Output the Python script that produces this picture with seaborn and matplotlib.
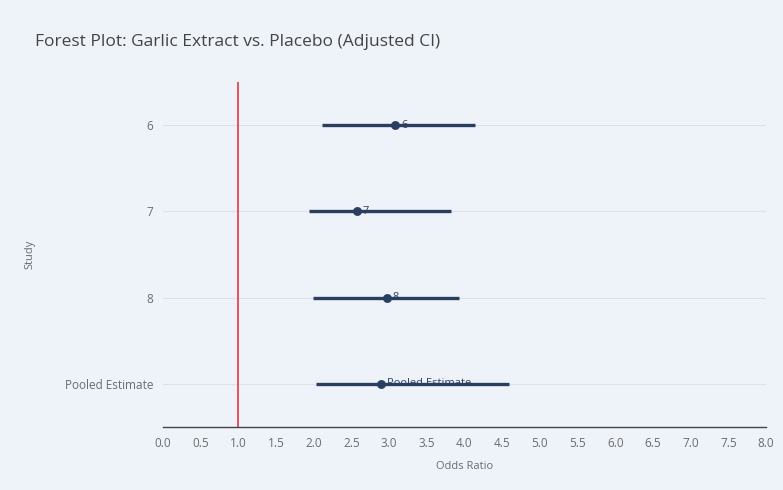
import numpy as np
import pandas as pd
import seaborn as sns
import matplotlib.pyplot as plt

# values
studies = ["6", "7", "8", "Pooled Estimate"]
odds_ratio = [3.08, 2.57, 2.97, 2.89]
ci_low = [2.11, 1.94, 1.99, 2.03]
ci_high = [4.14, 3.82, 3.93, 4.59]
x_ticks = [i * 0.5 for i in range(17)]

df = pd.DataFrame({"Study": studies, "OR": odds_ratio, "lo": ci_low, "hi": ci_high})

bg = "#EEF2F9"
ink = "#2A3F5F"

sns.set_theme(style="white")
plt.rcParams["font.family"] = ["Open Sans", "DejaVu Sans"]

fig = plt.figure(figsize=(7.83, 4.90), dpi=100, facecolor=bg)
ax = fig.add_axes([163 / 783, 1 - 427 / 490, (766 - 163) / 783, (427 - 82) / 490])
ax.set_facecolor(bg)

ypos = np.arange(len(studies))
ax.errorbar(df["OR"], ypos,
            xerr=[df["OR"] - df["lo"], df["hi"] - df["OR"]],
            fmt="none", ecolor=ink, elinewidth=2.4, capsize=0, zorder=3)
sns.scatterplot(x=df["OR"], y=ypos, ax=ax, color=ink, s=35, edgecolor=ink, zorder=4, legend=False)
for y, (s, v) in enumerate(zip(studies, odds_ratio)):
    ax.text(v + 0.08, y, s, fontsize=8, color=ink, va="center", ha="left", zorder=5)

ax.axvline(1.0, color="#E8434F", lw=1.3, zorder=2)

ax.set_xlim(0, 8)
ax.set_ylim(len(studies) - 0.5, -0.5)
ax.set_xticks(x_ticks)
ax.set_xticklabels([f"{t:.1f}" for t in x_ticks])
ax.set_yticks(ypos)
ax.set_yticklabels(studies)
ax.tick_params(axis="both", labelsize=8.5, labelcolor="#6b6b6b", length=0, pad=7)

for y in ypos:
    ax.axhline(y, color="#DCE1EA", lw=0.8, zorder=1)

for side in ["top", "right", "left"]:
    ax.spines[side].set_visible(False)
ax.spines["bottom"].set_color("#444444")
ax.spines["bottom"].set_linewidth(1)

ax.set_xlabel("Odds Ratio", fontsize=8, color="#6b6b6b", labelpad=8)
ax.set_ylabel("Study", fontsize=8, color="#6b6b6b")
ax.yaxis.set_label_coords((35 - 163) / 603, 0.5)

fig.text(35 / 783, 1 - 42 / 490, "Forest Plot: Garlic Extract vs. Placebo (Adjusted CI)",
         fontsize=12.5, color="#444444", va="center", ha="left")

fig.savefig("out.png", dpi=100, facecolor=bg)
